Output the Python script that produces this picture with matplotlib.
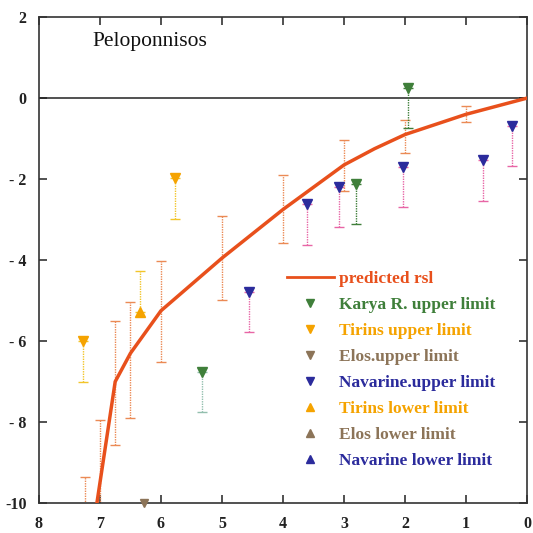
import matplotlib
matplotlib.use('Agg')
import matplotlib.pyplot as plt
from matplotlib.lines import Line2D

plt.rcParams['font.family'] = ['Liberation Serif', 'DejaVu Serif']

# predicted relative sea level curve (age in ka BP, rsl in m)
rsl_age = [7.05, 6.75, 6.5, 6.0, 5.5, 5.0, 4.5, 4.0, 3.5, 3.0, 2.5, 2.0, 1.5, 1.0, 0.5, 0.0]
rsl_val = [-10.0, -7.0, -6.3, -5.25, -4.6, -3.95, -3.35, -2.75, -2.2, -1.65, -1.25, -0.9, -0.65, -0.4, -0.2, 0.0]

# uncertainty ranges drawn as dotted bars
band_age = [7.25, 7.0, 6.75, 6.5, 6.0, 5.0, 4.0, 3.0, 2.0, 1.0]
band_hi = [-9.35, -7.95, -5.5, -5.03, -4.02, -2.91, -1.9, -1.04, -0.53, -0.19]
band_lo = [-11.0, -11.0, -8.57, -7.9, -6.52, -4.99, -3.57, -2.3, -1.35, -0.6]

# upper / lower limit indicators
karya_age = [1.96, 2.81, 5.32]
karya_rsl = [0.25, -2.12, -6.76]
karya_bar = [1.0, 1.0, 1.0]

tirins_up_age = [5.77, 7.28]
tirins_up_rsl = [-1.98, -6.0]
tirins_up_bar = [1.0, 1.0]

elos_up_age = [6.27]
elos_up_rsl = [-10.0]

navarine_up_age = [0.25, 0.73, 2.04, 3.09, 3.6, 4.56]
navarine_up_rsl = [-0.68, -1.53, -1.7, -2.19, -2.62, -4.78]
navarine_up_bar = [1.0, 1.0, 1.0, 1.0, 1.0, 1.0]

tirins_lo_age = [6.34]
tirins_lo_rsl = [-5.28]
tirins_lo_bar = [1.0]

xticks = [8, 7, 6, 5, 4, 3, 2, 1, 0]
yticks = [2, 0, -2, -4, -6, -8, -10]
ytick_labels = ['2', '0', '- 2', '- 4', '- 6', '- 8', '-10']

C_RSL = '#e8501c'
C_BAND = '#eb8a55'
C_KARYA = '#3f7f3a'
C_TIRINS = '#f5a300'
C_TIRINS_BAR = '#f2c52a'
C_ELOS = '#8c7458'
C_NAV = '#2b2b9c'
C_NAV_BAR = '#e866a6'
MS = 7


def dotted_bar(ax, x, y0, y1, color, cap=3.5):
    # dotted vertical bar with short caps, like the scanned figure
    ax.vlines(x, y0, y1, colors=color, linestyles=(0, (1, 0.8)), lw=1.0, zorder=2)
    ax.plot([x, x], [y0, y1], ls='none', marker='_', ms=cap * 2, mew=1.0, color=color, zorder=2)


fig = plt.figure(figsize=(5.33, 5.33), dpi=100)
ax = fig.add_axes([0.073, 0.056, 0.916, 0.912])

ax.axhline(0, color='#222222', lw=1.1, zorder=1)

for a, hi, lo in zip(band_age, band_hi, band_lo):
    dotted_bar(ax, a, lo, hi, C_BAND)

ax.plot(rsl_age, rsl_val, color=C_RSL, lw=2.5, zorder=4, solid_joinstyle='miter')

karya_bar_cols = [C_KARYA, C_KARYA, '#93bfae']
for a, v, d, c in zip(karya_age, karya_rsl, karya_bar, karya_bar_cols):
    dotted_bar(ax, a, v - d, v, c)
ax.plot(karya_age, karya_rsl, 'v', color=C_KARYA, ms=MS, zorder=5)

for a, v, d in zip(tirins_up_age, tirins_up_rsl, tirins_up_bar):
    dotted_bar(ax, a, v - d, v, C_TIRINS_BAR)
ax.plot(tirins_up_age, tirins_up_rsl, 'v', color=C_TIRINS, ms=MS, zorder=5)

ax.plot(elos_up_age, elos_up_rsl, 'v', color=C_ELOS, ms=MS - 1, zorder=5, clip_on=False)

for a, v, d in zip(navarine_up_age, navarine_up_rsl, navarine_up_bar):
    dotted_bar(ax, a, v - d, v, C_NAV_BAR)
ax.plot(navarine_up_age, navarine_up_rsl, 'v', color=C_NAV, ms=MS, zorder=5)

for a, v, d in zip(tirins_lo_age, tirins_lo_rsl, tirins_lo_bar):
    dotted_bar(ax, a, v, v + d, C_TIRINS_BAR)
ax.plot(tirins_lo_age, tirins_lo_rsl, '^', color=C_TIRINS, ms=MS, zorder=5)

ax.set_xlim(8, 0)
ax.set_ylim(-10, 2)
ax.set_xticks(xticks)
ax.set_xticklabels([str(t) for t in xticks])
ax.set_yticks(yticks)
ax.set_yticklabels(ytick_labels)
ax.tick_params(direction='in', length=6, width=1.1, top=True, right=True,
               labelsize=11.5, colors='#222222')
ax.tick_params(axis='x', pad=9)
ax.tick_params(axis='y', pad=9)
for lab in ax.get_xticklabels() + ax.get_yticklabels():
    lab.set_fontweight('bold')
for s in ax.spines.values():
    s.set_color('#333333')
    s.set_linewidth(1.2)

ax.text(0.11, 0.95, 'Peloponnisos', transform=ax.transAxes, fontsize=15.5, color='#111111',
        va='center', ha='left')

handles = [
    Line2D([], [], color=C_RSL, lw=2),
    Line2D([], [], ls='none', marker='v', color=C_KARYA, ms=6),
    Line2D([], [], ls='none', marker='v', color=C_TIRINS, ms=6),
    Line2D([], [], ls='none', marker='v', color=C_ELOS, ms=6),
    Line2D([], [], ls='none', marker='v', color=C_NAV, ms=6),
    Line2D([], [], ls='none', marker='^', color=C_TIRINS, ms=6),
    Line2D([], [], ls='none', marker='^', color=C_ELOS, ms=6),
    Line2D([], [], ls='none', marker='^', color=C_NAV, ms=6),
]
labels = ['predicted rsl', 'Karya R. upper limit', 'Tirins upper limit', 'Elos.upper limit',
          'Navarine.upper limit', 'Tirins lower limit', 'Elos lower limit', 'Navarine lower limit']
label_cols = [C_RSL, C_KARYA, C_TIRINS, C_ELOS, C_NAV, C_TIRINS, C_ELOS, C_NAV]

leg = ax.legend(handles, labels, loc='upper left', bbox_to_anchor=(0.508, 0.477),
                frameon=False, handlelength=2.7, handletextpad=0.3,
                labelspacing=0.565, borderpad=0, borderaxespad=0,
                prop={'weight': 'bold', 'size': 12.5})
for t, c in zip(leg.get_texts(), label_cols):
    t.set_color(c)

fig.savefig('out.png', dpi=100)
